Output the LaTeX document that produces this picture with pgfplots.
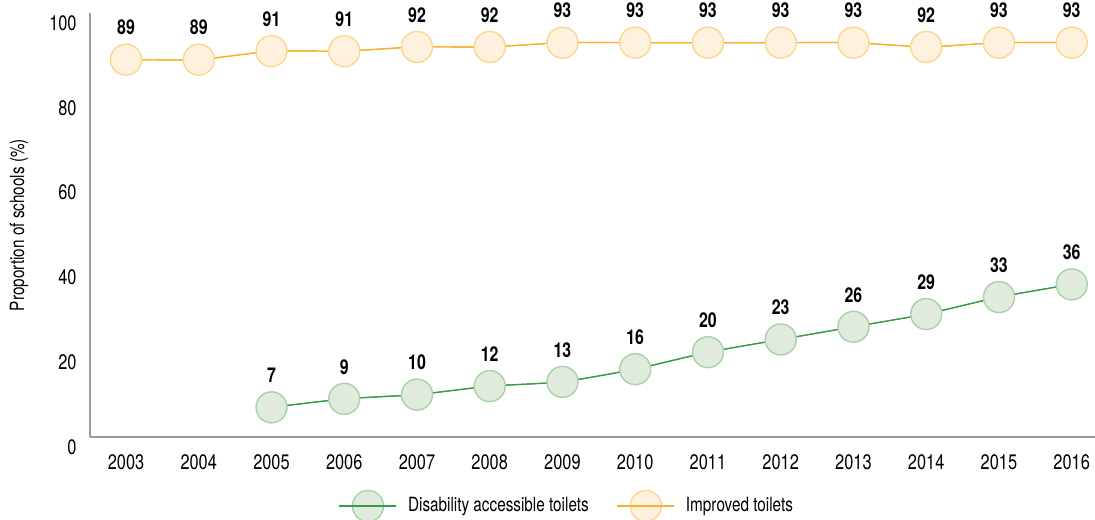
\documentclass[border=0pt]{standalone}
\usepackage{pgfplots}
\pgfplotsset{compat=1.18}
\usepackage{fontspec}
\setmainfont{TeX Gyre Heros}[FakeStretch=0.78]

\definecolor{gline}{HTML}{3A9A47}
\definecolor{gfill}{HTML}{E1EBDD}
\definecolor{gdraw}{HTML}{A6D3A6}
\definecolor{oline}{HTML}{F6B22A}
\definecolor{ofill}{HTML}{FEF2DF}
\definecolor{odraw}{HTML}{FBD78E}
\definecolor{axgray}{HTML}{9A9A9A}

\begin{document}
\begin{tikzpicture}
\begin{axis}[
    scale only axis,
    width=502.5pt,
    height=212pt,
    xmin=2002.505, xmax=2016.32,
    ymin=0, ymax=100,
    axis x line*=bottom,
    axis y line*=left,
    axis line style={axgray, line width=0.6pt, -},
    xtick={2003,...,2016},
    ytick={0,20,40,60,80,100},
    major tick length=0pt,
    /pgf/number format/assume math mode=true,
    /pgf/number format/1000 sep={},
    tick label style={font=\fontsize{10.5}{12}\selectfont, inner sep=0pt},
    xticklabel style={anchor=center, yshift=-12.5pt},
    yticklabel style={anchor=east, xshift=-6.5pt, yshift=-5pt},
    ylabel={Proportion of schools (\%)},
    ylabel style={at={(axis description cs:-0.0706,0.5)}, anchor=center, font=\fontsize{9.8}{11}\selectfont},
    clip=false,
    point meta=explicit symbolic,
    nodes near coords,
    nodes near coords style={anchor=center, yshift=16pt, font=\fontsize{10.2}{12}\selectfont\bfseries, text=black},
    legend style={at={(0.479,-0.1627)}, anchor=center, draw=none, fill=none,
        legend columns=2, font=\fontsize{9.8}{11}\selectfont,
        /tikz/every even column/.append style={column sep=8.5pt},
        nodes={inner xsep=5.5pt}},
    legend image code/.code={
        \draw[mark repeat=2,mark phase=2,#1] plot coordinates {(0pt,0pt) (14.25pt,0pt) (28.5pt,0pt)};
        \draw[#1, mark=none] (0pt,0pt) -- (28.5pt,0pt);
    },
]

% Disability accessible toilets
\addplot[gline, line width=0.6pt, smooth, tension=0.3, mark=*, mark size=7.75pt,
    mark options={draw=gdraw, fill=gfill, line width=0.7pt}] coordinates {
(2005,7) [7] (2006,9) [9] (2007,10) [10] (2008,12) [12] (2009,13) [13] (2010,16) [16]
(2011,20) [20] (2012,23) [23] (2013,26) [26] (2014,29) [29] (2015,33) [33] (2016,36) [36]
};
\addlegendentry{Disability accessible toilets}

% Improved toilets
\addplot[oline, line width=0.6pt, smooth, tension=0.3, mark=*, mark size=7.75pt,
    mark options={draw=odraw, fill=ofill, line width=0.7pt}] coordinates {
(2003,89) [89] (2004,89) [89] (2005,91) [91] (2006,91) [91] (2007,92) [92] (2008,92) [92]
(2009,93) [93] (2010,93) [93] (2011,93) [93] (2012,93) [93] (2013,93) [93] (2014,92) [92]
(2015,93) [93] (2016,93) [93]
};
\addlegendentry{Improved toilets}

% lines again on top of the circles
\addplot[gline, line width=0.6pt, smooth, tension=0.3, no marks, nodes near coords=, forget plot] coordinates {
(2005,7) (2006,9) (2007,10) (2008,12) (2009,13) (2010,16)
(2011,20) (2012,23) (2013,26) (2014,29) (2015,33) (2016,36)
};
\addplot[oline, line width=0.6pt, smooth, tension=0.3, no marks, nodes near coords=, forget plot] coordinates {
(2003,89) (2004,89) (2005,91) (2006,91) (2007,92) (2008,92)
(2009,93) (2010,93) (2011,93) (2012,93) (2013,93) (2014,92)
(2015,93) (2016,93)
};

\coordinate (bl) at (rel axis cs:0,0);
\coordinate (tr) at (rel axis cs:1,1);
\end{axis}
\pgfresetboundingbox
\path ([shift={(-45pt,-41pt)}]bl) rectangle ([shift={(0pt,6.5pt)}]tr);
\end{tikzpicture}
\end{document}
